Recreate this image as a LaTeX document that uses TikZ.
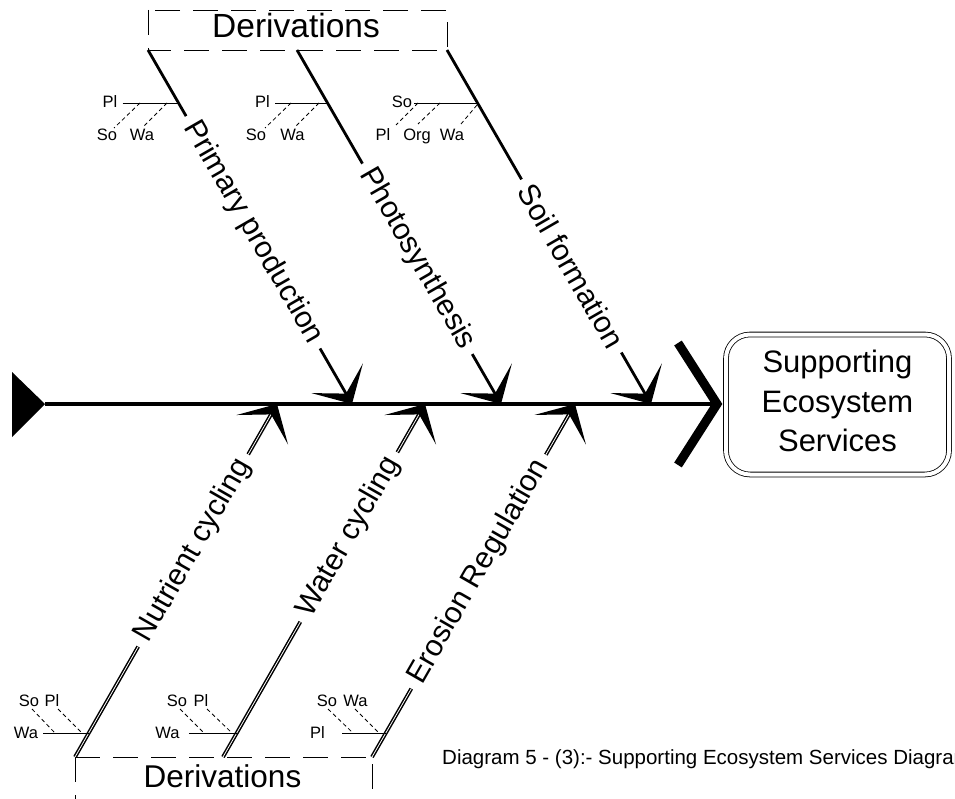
\documentclass[tikz,border=0pt]{standalone}
\usepackage{fontspec}
\setmainfont{Liberation Sans}
\usetikzlibrary{calc}
\begin{document}
\begin{tikzpicture}[x=1pt,y=-1pt,
  spine/.style={line width=3.6pt},
  headmark/.style={line width=9pt, line join=miter, line cap=butt},
  branchtop/.style={line width=2.8pt},
  branchbot/.style={line width=1.5pt, double=white, double distance=0.8pt},
  causelabel/.style={font=\fontsize{30}{36}\selectfont, inner xsep=8pt, inner ysep=0pt, sloped},
  sublabel/.style={font=\fontsize{16.5}{19}\selectfont, inner sep=0pt, anchor=base},
  subline/.style={line width=0.9pt},
  subdash/.style={line width=0.8pt, dash pattern=on 4pt off 3pt},
  derivline/.style={line width=0.9pt, dash pattern=on 25pt off 13pt},
  derivtext/.style={font=\fontsize{33.5}{38}\selectfont, inner sep=0pt},
  effectbox/.style={draw, line width=0.8pt, double=white, double distance=4pt,
    rounded corners=24pt, minimum width=223pt, minimum height=140pt},
  effecttext/.style={font=\fontsize{31}{39.5}\selectfont, align=center, inner sep=0pt},
  caption/.style={font=\fontsize{20.5}{24}\selectfont, inner sep=0pt, anchor=base west},
]
\useasboundingbox (0,0) rectangle (955,799);

% ---------- spine, tail and head ----------
\coordinate (tailtop) at (12,372);
\coordinate (tailbot) at (12,437);
\coordinate (tailtip) at (45,404);
\coordinate (headtip) at (717,404);
\coordinate (headtop) at (678,343);
\coordinate (headbot) at (678,465);
\fill (tailtop) -- (tailtip) -- (tailbot) -- cycle;
\draw[spine] (tailtip) -- (headtip);
\draw[headmark] (headtop) -- (headtip) -- (headbot);

\node[effectbox] (effect) at (837.5,404.5) {};
\node[effecttext] (effecttext) at (837.5,401) {Supporting\\Ecosystem\\Services};

% ---------- derivation frames ----------
\coordinate (dtl) at (148,10);
\coordinate (dbr) at (447,50);
\draw[derivline] (dtl) rectangle (dbr);
\node[derivtext] (derivtop) at (296,26) {Derivations};

\coordinate (dbl) at (75,757);
\coordinate (dbr2) at (372,757);
\coordinate (dblow) at (75,805);
\coordinate (dbrlow) at (372,805);
\draw[derivline] (dbl) -- (dblow);
\draw[derivline] (dbl) -- (dbr2) -- (dbrlow);
\node[derivtext, font=\fontsize{31.5}{38}\selectfont] (derivbot) at (222.5,776) {Derivations};

% ---------- main causes ----------
\coordinate (b1s) at (148,50);  \coordinate (b1t) at (352,404);
\coordinate (b2s) at (297,50);  \coordinate (b2t) at (501,404);
\coordinate (b3s) at (447,50);  \coordinate (b3t) at (651,404);
\coordinate (c1s) at (75,757);  \coordinate (c1t) at (277,404);
\coordinate (c2s) at (223,757); \coordinate (c2t) at (425,404);
\coordinate (c3s) at (372,757); \coordinate (c3t) at (575,404);

\path (b1s) -- (b1t) node[causelabel, pos=.515] (l1) {Primary production};
\path (b2s) -- (b2t) node[causelabel, pos=.59]  (l2) {Photosynthesis};
\path (b3s) -- (b3t) node[causelabel, pos=.61]  (l3) {Soil formation};
\path (c1s) -- (c1t) node[causelabel, pos=.585] (k1) {Nutrient cycling};
\path (c2s) -- (c2t) node[causelabel, pos=.623] (k2) {Water cycling};
\path (c3s) -- (c3t) node[causelabel, pos=.525] (k3) {Erosion Regulation};

\foreach \b/\l in {b1/l1, b2/l2, b3/l3} {
  \draw[branchtop] (\b s) -- (\l.west);
  \draw[branchtop] (\l.east) -- ($(\b t)!10pt!(\b s)$);
}
\foreach \b/\l in {c1/k1, c2/k2, c3/k3} {
  \draw[branchbot] (\b s) -- (\l.west);
  \draw[branchbot] (\l.east) -- ($(\b t)!10pt!(\b s)$);
}
% barbed heads where the causes meet the spine
\foreach \b in {b1, b2, b3, c1, c2, c3} {
  \fill ($(\b t)!42pt!45:(\b s)$) -- (\b t) -- ($(\b t)!42pt!-45:(\b s)$)
        -- ($(\b t)!12pt!(\b s)$) -- cycle;
}

% ---------- sub-causes: Primary production ----------
\node[sublabel] (p1pl) at (110,108) {Pl};
\node[sublabel] (p1so) at (107,140.5) {So};
\node[sublabel] (p1wa) at (142,140.5) {Wa};
\coordinate (p1ax) at (178.6,103);
\coordinate (p1d1) at (140,103); \coordinate (p1e1) at (114,128);
\coordinate (p1d2) at (167,103); \coordinate (p1e2) at (144,126);
\draw[subline] (p1pl.east |- p1ax) ++(5,0) -- (p1ax);
\draw[subdash] (p1d1) -- (p1e1);
\draw[subdash] (p1d2) -- (p1e2);

% ---------- sub-causes: Photosynthesis ----------
\node[sublabel] (p2pl) at (262.5,108) {Pl};
\node[sublabel] (p2so) at (256,140.5) {So};
\node[sublabel] (p2wa) at (292.5,140.5) {Wa};
\coordinate (p2ax) at (327.6,103);
\coordinate (p2d1) at (291,103); \coordinate (p2e1) at (265,128);
\coordinate (p2d2) at (319,103); \coordinate (p2e2) at (296,126);
\draw[subline] (p2pl.east |- p2ax) ++(5,0) -- (p2ax);
\draw[subdash] (p2d1) -- (p2e1);
\draw[subdash] (p2d2) -- (p2e2);

% ---------- sub-causes: Soil formation ----------
\node[sublabel] (p3so) at (402,108) {So};
\node[sublabel] (p3pl) at (383,140.5) {Pl};
\node[sublabel] (p3org) at (417,140.5) {Org};
\node[sublabel] (p3wa) at (452,140.5) {Wa};
\coordinate (p3ax) at (477.6,103);
\coordinate (p3d1) at (418,103); \coordinate (p3e1) at (396,125);
\coordinate (p3d2) at (440,103); \coordinate (p3e2) at (418,124);
\coordinate (p3d3) at (477,105); \coordinate (p3e3) at (461,124);
\draw[subline] (p3so.east |- p3ax) ++(2,0) -- (p3ax);
\draw[subdash] (p3d1) -- (p3e1);
\draw[subdash] (p3d2) -- (p3e2);
\draw[subdash] (p3d3) -- (p3e3);

% ---------- sub-causes: Nutrient cycling ----------
\node[sublabel] (q1so) at (29,706) {So};
\node[sublabel] (q1pl) at (52,706) {Pl};
\node[sublabel] (q1wa) at (26,738) {Wa};
\coordinate (q1ax) at (88.8,733);
\coordinate (q1d1) at (32,709); \coordinate (q1e1) at (55,733);
\coordinate (q1d2) at (58,709); \coordinate (q1e2) at (82,733);
\draw[subline] (q1wa.east |- q1ax) ++(5,0) -- (q1ax);
\draw[subdash] (q1d1) -- (q1e1);
\draw[subdash] (q1d2) -- (q1e2);

% ---------- sub-causes: Water cycling ----------
\node[sublabel] (q2so) at (177,706) {So};
\node[sublabel] (q2pl) at (201,706) {Pl};
\node[sublabel] (q2wa) at (167.5,738) {Wa};
\coordinate (q2ax) at (236.8,733);
\coordinate (q2d1) at (180,709); \coordinate (q2e1) at (204,733);
\coordinate (q2d2) at (207,709); \coordinate (q2e2) at (232,733);
\draw[subline] (q2wa.east |- q2ax) ++(9,0) -- (q2ax);
\draw[subdash] (q2d1) -- (q2e1);
\draw[subdash] (q2d2) -- (q2e2);

% ---------- sub-causes: Erosion Regulation ----------
\node[sublabel] (q3so) at (327,706) {So};
\node[sublabel] (q3wa) at (355.5,706) {Wa};
\node[sublabel] (q3pl) at (317.5,738) {Pl};
\coordinate (q3ax) at (385.8,733);
\coordinate (q3d1) at (328,709); \coordinate (q3e1) at (353,733);
\coordinate (q3d2) at (355,709); \coordinate (q3e2) at (379,733);
\draw[subline] (q3pl.east |- q3ax) ++(17,0) -- (q3ax);
\draw[subdash] (q3d1) -- (q3e1);
\draw[subdash] (q3d2) -- (q3e2);

% ---------- caption ----------
\node[caption] (caption) at (442,764) {Diagram 5 - (3):- Supporting Ecosystem Services Diagram};
\end{tikzpicture}
\end{document}
